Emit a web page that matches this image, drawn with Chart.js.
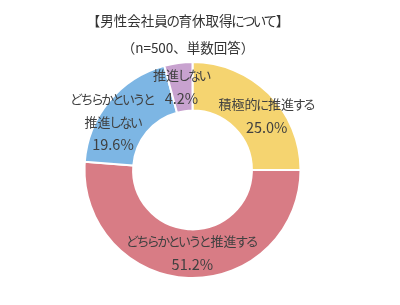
<!DOCTYPE html>
<html>
<head>
<meta charset="utf-8">
<script src="https://cdn.jsdelivr.net/npm/chart.js@4"></script>
<style>
  html, body { margin: 0; padding: 0; background: #fff; }
  #wrap { width: 400px; height: 305px; }
</style>
</head>
<body>
<div id="wrap"><canvas id="myChart" width="400" height="305"></canvas></div>
<script>
// data
const titleLines = ['【男性会社員の育休取得について】', '（n=500、単数回答）'];
const labels = ['積極的に推進する', 'どちらかというと推進する', 'どちらかというと推進しない', '推進しない'];
const labelLines = [['積極的に推進する'], ['どちらかというと推進する'], ['どちらかというと', '推進しない'], ['推進しない']];
const values = [25.0, 51.2, 19.6, 4.2];
const colors = ['#F5D470', '#D87C85', '#7DB6E4', '#C8A2CF'];

// nudges for the in-slice labels (px from arc centre)
const labelNudge = [[15, 5], [3, -1], [-15, 5], [0, 0]];

const FONT = '"Noto Sans CJK JP", "Noto Sans", sans-serif';

// kana in the original font are narrower than full width, so tighten them
function isKana(ch) {
  const c = ch.charCodeAt(0);
  return c >= 0x3040 && c <= 0x30ff;
}
function textWidth(ctx, str, size) {
  let w = 0;
  for (const ch of str) w += ctx.measureText(ch).width - (isKana(ch) ? size * 0.2 : 0);
  return w;
}
function drawText(ctx, str, cx, y, size) {
  ctx.font = size + 'px ' + FONT;
  ctx.textAlign = 'left';
  let x = cx - textWidth(ctx, str, size) / 2;
  for (const ch of str) {
    const w = ctx.measureText(ch).width;
    const kana = isKana(ch);
    ctx.fillText(ch, kana ? x - size * 0.1 : x, y);
    x += w - (kana ? size * 0.2 : 0);
  }
}

const textPlugin = {
  id: 'textPlugin',
  afterDatasetsDraw(chart) {
    const ctx = chart.ctx;
    const meta = chart.getDatasetMeta(0);
    ctx.save();
    ctx.textBaseline = 'middle';

    // title
    ctx.fillStyle = '#333333';
    const tx = 188;
    drawText(ctx, titleLines[0], tx, 21, 13.5);
    drawText(ctx, titleLines[1], tx, 48, 13.5);

    // slice labels
    ctx.fillStyle = '#404040';
    const lineH = 23;
    meta.data.forEach((arc, i) => {
      const pos = arc.tooltipPosition();
      const lines = labelLines[i].concat([values[i].toFixed(1) + '%']);
      const x = pos.x + labelNudge[i][0];
      const y0 = pos.y + labelNudge[i][1] - (lines.length - 1) * lineH / 2;
      lines.forEach((t, j) => {
        const last = j === lines.length - 1;
        drawText(ctx, t, x, y0 + j * lineH, last ? 14.5 : 13);
      });
    });
    ctx.restore();
  }
};

const chartData = {
  labels: labels,
  datasets: [{
    data: values,
    backgroundColor: colors,
    borderColor: '#ffffff',
    borderWidth: 2
  }]
};

const config = {
  type: 'doughnut',
  data: chartData,
  options: {
    responsive: false,
    animation: false,
    cutout: '55%',
    layout: { padding: { left: 83, right: 98, top: 61, bottom: 26 } },
    plugins: {
      legend: { display: false },
      tooltip: { enabled: false },
      title: { display: false }
    }
  },
  plugins: [textPlugin]
};

const myChart = new Chart(document.getElementById('myChart'), config);
</script>
</body>
</html>
